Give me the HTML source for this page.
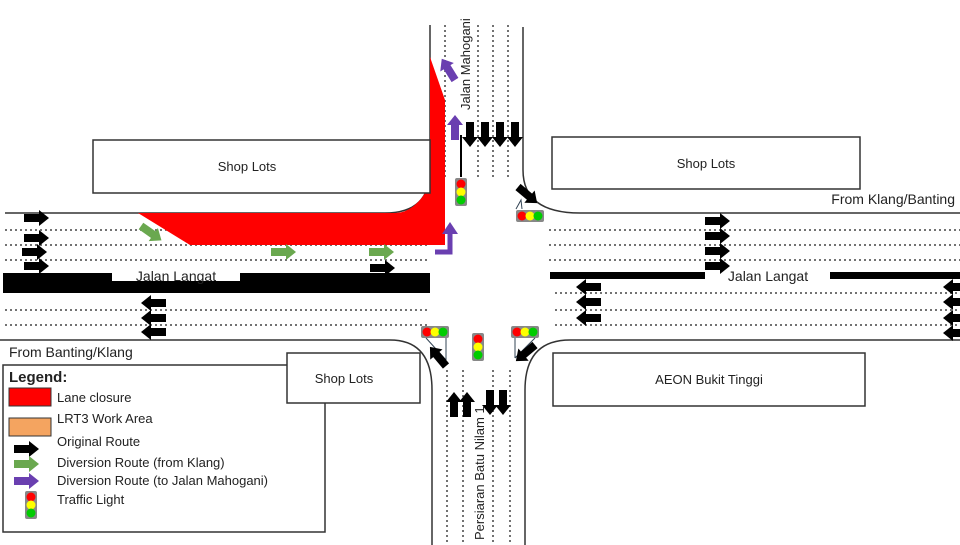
<!DOCTYPE html>
<html><head><meta charset="utf-8"><style>
html,body{margin:0;padding:0;background:#fff;}
svg{display:block;font-family:"Liberation Sans","DejaVu Sans",sans-serif;}
</style></head><body>
<svg width="960" height="545" viewBox="0 0 960 545" xmlns="http://www.w3.org/2000/svg">
<defs>
<g id="ar"><rect x="0" y="-4" width="16" height="8" fill="#000"/><path d="M15,-8 L25,0 L15,8 z" fill="#000"/></g>
<g id="ag"><rect x="0" y="-4" width="16" height="8" fill="#6aa84f"/><path d="M15,-8 L25,0 L15,8 z" fill="#6aa84f"/></g>
<g id="ap"><rect x="0" y="-4" width="16" height="8" fill="#6a3fb0"/><path d="M15,-8 L25,0 L15,8 z" fill="#6a3fb0"/></g>
<g id="tl"><rect x="-6" y="-14" width="12" height="28" rx="2" fill="#888"/><circle cx="0" cy="-8" r="4.5" fill="#f00"/><circle cx="0" cy="0" r="4.5" fill="#ff0"/><circle cx="0" cy="8" r="4.5" fill="#0c0"/></g>
<g id="tlh"><rect x="-14" y="-6" width="28" height="12" rx="2" fill="#888"/><circle cx="-8" cy="0" r="4.5" fill="#f00"/><circle cx="0" cy="0" r="4.5" fill="#ff0"/><circle cx="8" cy="0" r="4.5" fill="#0c0"/></g>
</defs>
<g fill="none" stroke="#333" stroke-width="1.5">
<path d="M5,213 L385,213 Q430,213 430,170 L430,25"/>
<path d="M523,27 L523,170 Q523,213 580,213 L960,213"/>
<path d="M0,340 L390,340 Q432,340 432,390 L432,545"/>
<path d="M960,340 L570,340 Q525,340 525,390 L525,545"/>
</g>
<g fill="none" stroke="#444" stroke-width="1.5" stroke-dasharray="2,3">
<path d="M5,230H430M5,245H430M5,260H430M5,310H430M5,325H430"/>
<path d="M549,230H960M549,245H960M549,260H960M555,293H960M555,310H960M555,325H960"/>
<path d="M445,25V180M478,25V180M493,25V180M508,25V180"/>
<path d="M447,370V545M463,370V545M493,370V545M510,370V545"/>
</g>
<rect x="3" y="273" width="427" height="20" fill="#000"/>
<rect x="112" y="271" width="128" height="10" fill="#fff"/>
<text x="176" y="281" font-size="14" text-anchor="middle" fill="#222">Jalan Langat</text>
<rect x="550" y="272" width="155" height="7" fill="#000"/>
<rect x="830" y="272" width="130" height="7" fill="#000"/>
<text x="768" y="281" font-size="14" text-anchor="middle" fill="#222">Jalan Langat</text>
<path d="M138,213 L395,213 Q415,213 430,185 L430,57 L445,100 L445,245 L190,245 Z" fill="#f00"/>
<g fill="#fff" stroke="#333" stroke-width="1.5">
<rect x="93" y="140" width="337" height="53"/>
<rect x="552" y="137" width="308" height="52"/>
<rect x="3" y="365" width="322" height="167"/>
<rect x="287" y="353" width="133" height="50"/>
<rect x="553" y="353" width="312" height="53"/>
</g>
<g font-size="13" fill="#222" text-anchor="middle">
<text x="247" y="171">Shop Lots</text>
<text x="706" y="168">Shop Lots</text>
<text x="344" y="383">Shop Lots</text>
<text x="709" y="384">AEON Bukit Tinggi</text>
</g>
<text x="955" y="204" font-size="14" text-anchor="end" fill="#222">From Klang/Banting</text>
<text x="9" y="357" font-size="14" fill="#222">From Banting/Klang</text>
<text transform="translate(470,110) rotate(-90)" font-size="13" fill="#222">Jalan Mahogani</text>
<text transform="translate(484,540) rotate(-90)" font-size="13" fill="#222">Persiaran Batu Nilam 1</text>
<use href="#ar" x="24" y="218"/><use href="#ar" x="24" y="238"/><use href="#ar" x="22" y="252"/><use href="#ar" x="24" y="266"/>
<use href="#ar" x="370" y="268"/>
<g transform="translate(166,0) scale(-1,1)"><use href="#ar" x="0" y="303"/><use href="#ar" x="0" y="318"/><use href="#ar" x="0" y="332"/></g>
<use href="#ar" x="705" y="221"/><use href="#ar" x="705" y="236"/><use href="#ar" x="705" y="251"/><use href="#ar" x="705" y="266"/>
<g transform="translate(601,0) scale(-1,1)"><use href="#ar" x="0" y="287"/><use href="#ar" x="0" y="302"/><use href="#ar" x="0" y="318"/></g>
<g transform="translate(968,0) scale(-1,1)"><use href="#ar" x="0" y="287"/><use href="#ar" x="0" y="302"/><use href="#ar" x="0" y="318"/><use href="#ar" x="0" y="333"/></g>
<use href="#ag" transform="translate(141,226) rotate(35)"/>
<use href="#ag" x="271" y="252"/><use href="#ag" x="369" y="252"/>
<path d="M435,252 H450 V234" fill="none" stroke="#6a3fb0" stroke-width="5"/>
<path d="M442,234 L450,222 L458,234 z" fill="#6a3fb0"/>
<use href="#ap" transform="translate(455,140) rotate(-90)"/>
<use href="#ap" transform="translate(455,80) rotate(-122)"/>
<use href="#ar" transform="translate(470,122) rotate(90)"/><use href="#ar" transform="translate(485,122) rotate(90)"/><use href="#ar" transform="translate(500,122) rotate(90)"/><use href="#ar" transform="translate(515,122) rotate(90)"/>
<line x1="461" y1="135" x2="461" y2="177" stroke="#000" stroke-width="2"/>
<use href="#tl" x="461" y="192"/>
<use href="#ar" transform="translate(518,187) rotate(40)"/>
<use href="#tlh" x="530" y="216"/>
<path d="M516,209 L521,200 L522,209" fill="none" stroke="#345" stroke-width="1"/>
<use href="#tlh" x="435" y="332"/><use href="#tlh" x="525" y="332"/>
<path d="M426,338 L446,360 M446,338 L446,360" stroke="#345" stroke-width="1"/>
<path d="M535,338 L515,358 M515,338 L515,358" stroke="#345" stroke-width="1"/>
<use href="#ar" transform="translate(446,366) rotate(-130)"/>
<use href="#ar" transform="translate(535,345) rotate(140)"/>
<use href="#tl" x="478" y="347"/>
<use href="#ar" transform="translate(454,417) rotate(-90)"/><use href="#ar" transform="translate(467,417) rotate(-90)"/>
<use href="#ar" transform="translate(490,390) rotate(90)"/><use href="#ar" transform="translate(503,390) rotate(90)"/>
<text x="9" y="382" font-size="15" font-weight="bold" fill="#222">Legend:</text>
<rect x="9" y="388" width="42" height="18" fill="#f00" stroke="#333"/>
<rect x="9" y="418" width="42" height="18" fill="#f4a460" stroke="#333"/>
<g font-size="13" fill="#222">
<text x="57" y="402">Lane closure</text>
<text x="57" y="423">LRT3 Work Area</text>
<text x="57" y="446">Original Route</text>
<text x="57" y="467">Diversion Route (from Klang)</text>
<text x="57" y="485">Diversion Route (to Jalan Mahogani)</text>
<text x="57" y="504">Traffic Light</text>
</g>
<use href="#ar" x="14" y="449"/>
<use href="#ag" x="14" y="464"/>
<use href="#ap" x="14" y="481"/>
<use href="#tl" x="31" y="505"/>
</svg>
</body></html>
